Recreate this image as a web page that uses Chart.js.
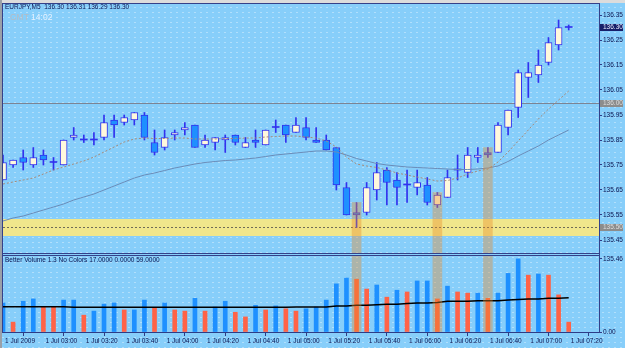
<!DOCTYPE html>
<html>
<head>
<meta charset="utf-8">
<script src="https://cdn.jsdelivr.net/npm/chart.js@4.4.1/dist/chart.umd.min.js"></script>
<style>
  html, body { margin:0; padding:0; }
  body { width:625px; height:348px; overflow:hidden; }
  #wrap { position:relative; width:625px; height:348px; overflow:hidden;
    background-color:#87cefa;
    background-image: radial-gradient(rgba(255,255,255,0.35) 0.5px, rgba(255,255,255,0) 0.9px);
    background-size: 6px 5px; }
  canvas { position:absolute; left:0; }
  #cMain { top:0; }
  #cVol { top:254px; }
  .ln { position:absolute; background:#34418a; }
  .txt { position:absolute; white-space:pre; font-family:"Liberation Sans", Arial, sans-serif; line-height:1; }
</style>
</head>
<body>
<div id="wrap">
  <canvas id="cMain" width="625" height="254"></canvas>
  <canvas id="cVol" width="625" height="94"></canvas>
  <div style="position:absolute;left:0;top:0;width:625px;height:3px;background:#dcdcdc"></div>
  <div style="position:absolute;left:0;top:0;width:2px;height:348px;background:#9aa0a8"></div>
  <div class="ln" style="left:2px;top:3px;width:598px;height:1px"></div>
  <div class="ln" style="left:2px;top:3px;width:1px;height:330px"></div>
  <div class="ln" style="left:2px;top:253px;width:598px;height:1px"></div>
  <div class="ln" style="left:2px;top:255px;width:598px;height:1px"></div>
  <div class="ln" style="left:599px;top:3px;width:1px;height:330px"></div>
  <div class="txt" id="tTitle" style="left:5px;top:4px;font-size:6.5px;color:#0c1450"></div>
  <div class="txt" id="tGmt" style="left:10px;top:13px;font-size:8.5px;"></div>
  <div class="txt" id="tVol" style="left:5px;top:257px;font-size:6.5px;color:#0c1450"></div>
</div>
<script>
// ---------------- data ----------------
const symbol = 'EURJPY,M5';
const gmtLabel = 'GMT';
const gmtTime = '14:02';
const timeLabels = ['1 Jul 2009','1 Jul 03:00','1 Jul 03:20','1 Jul 03:40','1 Jul 04:00','1 Jul 04:20','1 Jul 04:40','1 Jul 05:00','1 Jul 05:20','1 Jul 05:40','1 Jul 06:00','1 Jul 06:20','1 Jul 06:40','1 Jul 07:00','1 Jul 07:20'];
const labelBars = [0,4,8,12,16,20,24,28,32,36,40,44,48,52,56];

const opens  = [135.69,135.75,135.78,135.75,135.79,135.76,135.75,135.86,135.85,135.85,
                135.86,135.93,135.92,135.93,135.95,135.84,135.82,135.87,135.89,135.91,
                135.83,135.84,135.85,135.87,135.82,135.85,135.83,135.90,135.91,135.88,
                135.90,135.85,135.85,135.82,135.66,135.56,135.56,135.65,135.73,135.69,
                135.67,135.66,135.67,135.59,135.62,135.73,135.72,135.78,135.80,135.80,
                135.90,135.98,136.10,136.11,136.16,136.23,136.30];
const highs  = [135.79,135.77,135.81,135.82,135.81,135.78,135.85,135.90,135.87,135.88,
                135.95,135.95,135.95,135.96,135.96,135.89,135.89,135.89,135.92,135.91,
                135.87,135.86,135.87,135.87,135.86,135.89,135.89,135.93,135.91,135.94,
                135.94,135.90,135.87,135.82,135.68,135.60,135.68,135.76,135.74,135.72,
                135.73,135.73,135.70,135.64,135.73,135.79,135.82,135.82,135.82,135.92,
                135.97,136.13,136.16,136.21,136.26,136.33,136.31];
const lows   = [135.69,135.74,135.73,135.74,135.75,135.73,135.75,135.85,135.84,135.83,
                135.85,135.86,135.91,135.91,135.85,135.79,135.81,135.85,135.87,135.82,
                135.82,135.81,135.80,135.83,135.82,135.82,135.83,135.88,135.84,135.88,
                135.85,135.84,135.81,135.65,135.55,135.50,135.55,135.61,135.59,135.59,
                135.60,135.63,135.59,135.58,135.62,135.69,135.70,135.76,135.78,135.80,
                135.87,135.94,136.02,136.08,136.15,136.21,136.29];
const closes = [135.76,135.77,135.76,135.78,135.77,135.76,135.85,135.87,135.85,135.85,
                135.92,135.91,135.94,135.96,135.86,135.80,135.86,135.88,135.90,135.82,
                135.85,135.86,135.86,135.84,135.84,135.84,135.89,135.90,135.87,135.91,
                135.86,135.84,135.81,135.67,135.55,135.55,135.66,135.72,135.68,135.66,
                135.67,135.68,135.60,135.63,135.70,135.73,135.79,135.79,135.79,135.91,
                135.97,136.12,136.12,136.15,136.24,136.30,136.30];

const maFast = [135.674,135.682,135.690,135.698,135.714,135.730,135.742,135.754,135.766,135.782,
                135.802,135.822,135.842,135.854,135.858,135.856,135.856,135.858,135.858,135.854,
                135.854,135.854,135.856,135.856,135.858,135.858,135.862,135.864,135.866,135.866,
                135.862,135.858,135.846,135.822,135.782,135.754,135.746,135.740,135.730,135.718,
                135.710,135.702,135.694,135.686,135.688,135.698,135.714,135.726,135.734,135.762,
                135.802,135.846,135.890,135.934,135.974,136.010,136.046];
const maSlow = [135.526,135.538,135.546,135.558,135.570,135.582,135.594,135.610,135.622,135.634,
                135.650,135.666,135.682,135.698,135.710,135.718,135.728,135.738,135.746,135.754,
                135.760,135.764,135.768,135.770,135.774,135.778,135.784,135.790,135.794,135.798,
                135.802,135.806,135.806,135.802,135.790,135.776,135.766,135.756,135.750,135.746,
                135.742,135.740,135.738,135.736,135.734,135.732,135.732,135.734,135.738,135.746,
                135.764,135.786,135.806,135.826,135.850,135.870,135.890];

const volumes = [50,17,53,57,43,43,55,55,29,36,48,50,38,38,55,41,50,38,36,58,
                 36,43,53,34,26,46,38,45,40,36,40,43,55,83,93,91,74,81,60,72,
                 69,88,88,57,79,69,67,67,58,67,101,126,98,100,98,64,17];
const volUp   = [1,0,1,1,0,0,1,1,0,1,1,1,0,1,1,0,1,0,0,1,
                 0,1,1,0,0,1,0,1,0,0,1,1,1,1,1,0,0,1,0,1,
                 0,1,1,0,1,0,0,1,0,1,1,1,0,1,0,0,0];
const volMA   = [43.5,43.5,43.5,43.5,43.5,43.5,43.5,42.5,42.5,42.5,42.5,42.5,42.5,42.5,42.5,42.5,
                 42.5,42.5,42.5,42.5,42.5,42.5,42.5,42.5,42.5,42.5,42.5,42.5,42.5,43,
                 43,43,43,45,45,46,46,47,48,48,49,50,50,51,53,53,53,54,54,54,
                 55,56,57,57,58,58,59];

const priceTicks = [135.45,135.55,135.65,135.75,135.85,135.95,136.05,136.15,136.25,136.35];
const volTicks = [0,126];
const volTickText = ['0.00','135.46'];
const levels = [136.00, 135.50];
const zone = [135.466, 135.534];
const markedBars = [35, 43, 48];
const volIndicatorMid = '0.0000';

// --------------- chart ----------------
const N = opens.length;
const idx = opens.map((_, i) => i);
const yMin = 135.398, yMax = 136.394;
const volMax = 131;
const xMin = 0, xMax = 59;
const FONT = 'Liberation Sans';
const LINE_BLUE = '#3232ee';
const AXIS = '#2e3c86';
const TXT = '#0c1450';
const HL = 'rgba(235,140,40,0.38)';

document.getElementById('tTitle').textContent =
  symbol + '  ' + [opens[N-1], highs[N-1], lows[N-1], closes[N-1]].map(v => v.toFixed(2)).join(' ');
document.getElementById('tGmt').innerHTML =
  '<span style="color:#b4bcc4">' + gmtLabel + '</span> <span style="color:#e6f2ff">' + gmtTime + '</span>';
document.getElementById('tVol').textContent =
  'Better Volume 1.3 No Colors ' + volumes[N-1].toFixed(4) + ' ' + volIndicatorMid + ' ' + volMA[N-1].toFixed(4);

Chart.defaults.font.family = FONT;
Chart.defaults.font.size = 6.5;
Chart.defaults.color = TXT;

const mainOverlay = {
  id: 'mainOverlay',
  beforeDatasetsDraw(chart) {
    const {ctx, chartArea: a, scales: {y}} = chart;
    ctx.save();
    ctx.beginPath(); ctx.rect(a.left, a.top, a.width, a.height); ctx.clip();
    const zt = y.getPixelForValue(zone[1]), zb = y.getPixelForValue(zone[0]);
    ctx.fillStyle = '#f0e68c';
    ctx.fillRect(a.left, zt, a.width, zb - zt);
    const p0 = Math.round(y.getPixelForValue(levels[0])) + 0.5;
    ctx.strokeStyle = '#7c8494'; ctx.lineWidth = 1;
    ctx.beginPath(); ctx.moveTo(a.left, p0); ctx.lineTo(a.right, p0); ctx.stroke();
    const p1 = Math.round(y.getPixelForValue(levels[1])) + 0.5;
    ctx.strokeStyle = '#6f6c58'; ctx.setLineDash([2, 2]);
    ctx.beginPath(); ctx.moveTo(a.left, p1); ctx.lineTo(a.right, p1); ctx.stroke();
    ctx.restore();
  },
  afterDraw(chart) {
    const {ctx, chartArea: a, scales: {y}} = chart;
    const boxes = [
      [closes[N-1], '#17206a', '#e8ecff'],
      [levels[0], '#8c8c8c', '#dedede'],
      [levels[1], '#8c8c8c', '#dedede']
    ];
    ctx.save();
    ctx.font = '6.5px ' + FONT;
    ctx.textBaseline = 'middle';
    boxes.forEach(([v, bg, fg]) => {
      const py = y.getPixelForValue(v);
      ctx.fillStyle = bg;
      ctx.fillRect(a.right + 1, Math.round(py) - 3, 23, 7);
      ctx.fillStyle = fg;
      ctx.fillText(v.toFixed(2), a.right + 4, Math.round(py) + 0.5);
    });
    ctx.restore();
  }
};

new Chart(document.getElementById('cMain'), {
  type: 'bar',
  data: {
    datasets: [
      { type: 'bar', order: 0, grouped: false, barThickness: 9,
        data: markedBars.map(i => ({x: i, y: [yMin, highs[i]]})),
        backgroundColor: HL },
      { type: 'line', order: 1, data: idx.map(i => ({x: i, y: maFast[i]})),
        borderColor: '#a88a78', borderWidth: 1, borderDash: [2, 2], pointRadius: 0, tension: 0 },
      { type: 'line', order: 1, data: idx.map(i => ({x: i, y: maSlow[i]})),
        borderColor: '#6a8cb8', borderWidth: 1, pointRadius: 0, tension: 0 },
      { type: 'bar', order: 2, grouped: false, barThickness: 7, minBarLength: 1,
        data: idx.map(i => ({x: i, y: [opens[i], closes[i]]})),
        backgroundColor: idx.map(i => closes[i] > opens[i] ? '#fff8dc' : (closes[i] < opens[i] ? '#1e90ff' : LINE_BLUE)),
        borderColor: LINE_BLUE,
        borderWidth: idx.map(i => closes[i] === opens[i] ? 0 : 1),
        borderSkipped: false },
      { type: 'bar', order: 3, grouped: false, barThickness: 1,
        data: idx.map(i => ({x: i, y: [lows[i], highs[i]]})),
        backgroundColor: LINE_BLUE }
    ]
  },
  options: {
    responsive: false, animation: false, devicePixelRatio: 1,
    layout: { padding: { left: 3, top: 4, right: 0, bottom: 1 } },
    plugins: { legend: { display: false }, tooltip: { enabled: false } },
    scales: {
      x: { type: 'linear', min: xMin, max: xMax, display: false, offset: false },
      y: { type: 'linear', position: 'right', min: yMin, max: yMax,
        afterBuildTicks: s => { s.ticks = priceTicks.map(v => ({value: v})); },
        afterFit: s => { s.width = 26; s.paddingTop = 0; s.paddingBottom = 0; },
        ticks: { callback: v => Number(v).toFixed(2), padding: 1, color: TXT, font: { size: 6.5 } },
        grid: { drawOnChartArea: false, drawTicks: true, tickLength: 3, color: AXIS },
        border: { display: true, color: AXIS, width: 1 } }
    }
  },
  plugins: [mainOverlay]
});

new Chart(document.getElementById('cVol'), {
  type: 'bar',
  data: {
    datasets: [
      { type: 'bar', order: 0, grouped: false, barThickness: 9,
        data: markedBars.map(i => ({x: i, y: [0, volMax]})), backgroundColor: HL },
      { type: 'line', order: 1, data: idx.map(i => ({x: i, y: volMA[i]})),
        borderColor: '#000000', borderWidth: 1.5, pointRadius: 0, tension: 0 },
      { type: 'bar', order: 2, grouped: false, barThickness: 4,
        data: idx.map(i => ({x: i, y: volumes[i]})),
        backgroundColor: idx.map(i => volUp[i] ? '#1e90ff' : '#ff6347') }
    ]
  },
  options: {
    responsive: false, animation: false, devicePixelRatio: 1,
    layout: { padding: { left: 3, top: 2, right: 0, bottom: 0 } },
    plugins: { legend: { display: false }, tooltip: { enabled: false } },
    scales: {
      x: { type: 'linear', min: xMin, max: xMax, offset: false, position: 'bottom',
        afterBuildTicks: s => { s.ticks = labelBars.map(v => ({value: v})); },
        afterFit: s => { s.height = 16; s.paddingLeft = 0; s.paddingRight = 0; },
        ticks: { autoSkip: false, maxRotation: 0, minRotation: 0, align: 'start', padding: 1, labelOffset: 2,
          callback: (v, i) => timeLabels[i], color: TXT, font: { size: 6.5 } },
        grid: { drawOnChartArea: false, drawTicks: true, tickLength: 4, color: AXIS },
        border: { display: true, color: AXIS, width: 1 } },
      y: { type: 'linear', position: 'right', min: 0, max: volMax,
        afterBuildTicks: s => { s.ticks = volTicks.map(v => ({value: v})); },
        afterFit: s => { s.width = 26; s.paddingTop = 0; s.paddingBottom = 0; },
        ticks: { callback: (v, i) => volTickText[i], padding: 1, color: TXT, font: { size: 6.5 } },
        grid: { drawOnChartArea: false, drawTicks: true, tickLength: 3, color: AXIS },
        border: { display: true, color: AXIS, width: 1 } }
    }
  }
});
</script>
</body>
</html>
